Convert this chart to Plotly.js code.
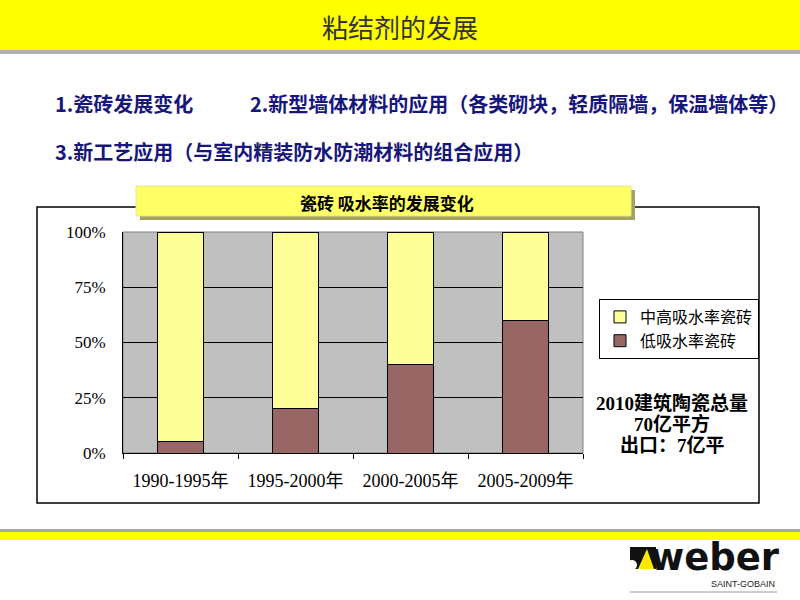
<!DOCTYPE html>
<html><head><meta charset="utf-8">
<script src="https://cdn.plot.ly/plotly-3.0.1.min.js"></script>
<style>html,body{margin:0;padding:0;background:#fff}#chart{width:800px;height:600px}</style>
</head><body><div id="chart"></div>
<script>
// ---- data ----
const categories = ['1990-1995年', '1995-2000年', '2000-2005年', '2005-2009年'];
const lowAbsorption = [0.05, 0.20, 0.40, 0.60];
const midHighAbsorption = [0.95, 0.80, 0.60, 0.40];
const seriesNames = ['低吸水率瓷砖', '中高吸水率瓷砖'];
const yTickVals = [0, 0.25, 0.5, 0.75, 1];
const yTickText = ['0%', '25%', '50%', '75%', '100%'];
const pageTitle = '粘结剂的发展';
const bullet1 = '1.瓷砖发展变化';
const bullet2 = '2.新型墙体材料的应用（各类砌块，轻质隔墙，保温墙体等）';
const bullet3 = '3.新工艺应用（与室内精装防水防潮材料的组合应用）';
const chartTitle = '瓷砖 吸水率的发展变化';
const noteLines = ['2010建筑陶瓷总量', '70亿平方', '出口：7亿平'];

// ---- layout helpers (pixel -> paper) ----
const L = 123, R = 583, T = 232, B = 453;
const X = px => (px - L) / (R - L);
const Y = py => (B - py) / (B - T);
const CJK = "'Noto Sans CJK SC', sans-serif";
const SERIF = "'Liberation Serif', 'Noto Sans CJK SC', serif";

function rect(x0, y0, x1, y1, fill, lineColor, lineWidth, layer) {
  return {type: 'rect', xref: 'paper', yref: 'paper', x0: X(x0), x1: X(x1), y0: Y(y0), y1: Y(y1),
    fillcolor: fill, line: {color: lineColor || 'rgba(0,0,0,0)', width: lineWidth || 0}, layer: layer || 'below'};
}
function poly(pts, fill, layer) {
  const d = pts.map((p, i) => (i ? 'L' : 'M') + X(p[0]) + ',' + Y(p[1])).join(' ') + ' Z';
  return {type: 'path', xref: 'paper', yref: 'paper', path: d, fillcolor: fill, line: {width: 0}, layer: layer || 'above'};
}
function note(text, px, py, size, color, opts) {
  return Object.assign({text: text, xref: 'paper', yref: 'paper', x: X(px), y: Y(py), showarrow: false,
    xanchor: 'center', yanchor: 'middle', font: {family: CJK, size: size, color: color}}, opts || {});
}

const traces = [
  {type: 'bar', name: seriesNames[0], x: categories, y: lowAbsorption,
   marker: {color: '#996666', line: {color: '#000', width: 1}}},
  {type: 'bar', name: seriesNames[1], x: categories, y: midHighAbsorption,
   marker: {color: '#FFFF99', line: {color: '#000', width: 1}}}
];

const shapes = [
  rect(0, 0, 800, 50, '#FFFF00'),
  rect(0, 50, 800, 54, '#B2B2A8'),
  rect(0, 529, 800, 532, '#A8A8A8'),
  rect(0, 532, 800, 540, '#FFFF00'),
  rect(37, 207, 759, 503, '#FFFFFF', '#000', 1.5),
  rect(123, 232, 583, 453, '#C0C0C0', '#808080', 1),
  rect(140, 190, 635, 220, '#A3A35C'),
  rect(136, 186, 631, 216, '#FFFF66', '#E6E68A', 1),
  // logo
  poly([[630, 547], [656, 547], [656, 569], [630, 569]], '#111111'),
  poly([[647, 549], [654, 569], [638, 569]], '#FFE800'),
  {type: 'circle', xref: 'paper', yref: 'paper', x0: X(627), x1: X(637), y0: Y(560), y1: Y(570),
   fillcolor: '#FFFFFF', line: {width: 0}, layer: 'above'},
  {type: 'line', xref: 'paper', yref: 'paper', x0: X(630), x1: X(777), y0: Y(592), y1: Y(592),
   line: {color: '#999999', width: 1}, layer: 'above'}
];

const serifBold = {family: SERIF, size: 19, color: '#000'};
const annotations = [
  note(pageTitle, 400, 26, 26, '#333333'),
  note('<b>' + bullet1 + '</b>', 53, 103, 20, '#16167C', {xanchor: 'left'}),
  note('<b>' + bullet2 + '</b>', 248, 103, 20, '#16167C', {xanchor: 'left'}),
  note('<b>' + bullet3 + '</b>', 53, 151, 20, '#16167C', {xanchor: 'left'}),
  note('<b>' + chartTitle + '</b>', 387, 202, 17, '#000'),
  note('<b>' + noteLines[0] + '</b>', 672, 403, 19, '#000', {font: serifBold}),
  note('<b>' + noteLines[1] + '</b>', 672, 424, 19, '#000', {font: serifBold}),
  note('<b>' + noteLines[2] + '</b>', 672, 445, 19, '#000', {font: serifBold}),
  note('<b>weber</b>', 648, 557, 37, '#111', {xanchor: 'left', font: {family: "'DejaVu Sans', sans-serif", size: 37, color: '#111'}}),
  note('SAINT-GOBAIN', 777, 584, 9, '#222', {xanchor: 'right', font: {family: "'Liberation Sans', sans-serif", size: 9, color: '#222'}})
];

const layout = {
  width: 800, height: 600,
  margin: {l: L, r: 800 - R, t: T, b: 600 - B, pad: 0},
  paper_bgcolor: '#FFFFFF', plot_bgcolor: 'rgba(0,0,0,0)',
  barmode: 'stack', bargap: 0.6,
  showlegend: true,
  legend: {x: X(599), y: Y(299), xanchor: 'left', yanchor: 'top', bgcolor: '#FFFFFF',
    bordercolor: '#000', borderwidth: 1, traceorder: 'reversed', tracegroupgap: 0,
    font: {family: CJK, size: 16, color: '#000'}},
  xaxis: {type: 'category', showline: true, linecolor: '#000', linewidth: 1, showgrid: false,
    ticks: 'outside', tickson: 'boundaries', ticklen: 5, tickcolor: '#000',
    ticklabelstandoff: 11, tickfont: {family: SERIF, size: 18, color: '#000'}, fixedrange: true},
  yaxis: {range: [0, 1], tickvals: yTickVals, ticktext: yTickText, showline: true, linecolor: '#000', linewidth: 1,
    showgrid: true, gridcolor: '#000', gridwidth: 1, zeroline: false, ticks: '',
    ticklabelstandoff: 13, tickfont: {family: SERIF, size: 17, color: '#000'}, fixedrange: true},
  shapes: shapes,
  annotations: annotations
};

Plotly.newPlot('chart', traces, layout, {staticPlot: true, displayModeBar: false});
</script>
</body></html>
